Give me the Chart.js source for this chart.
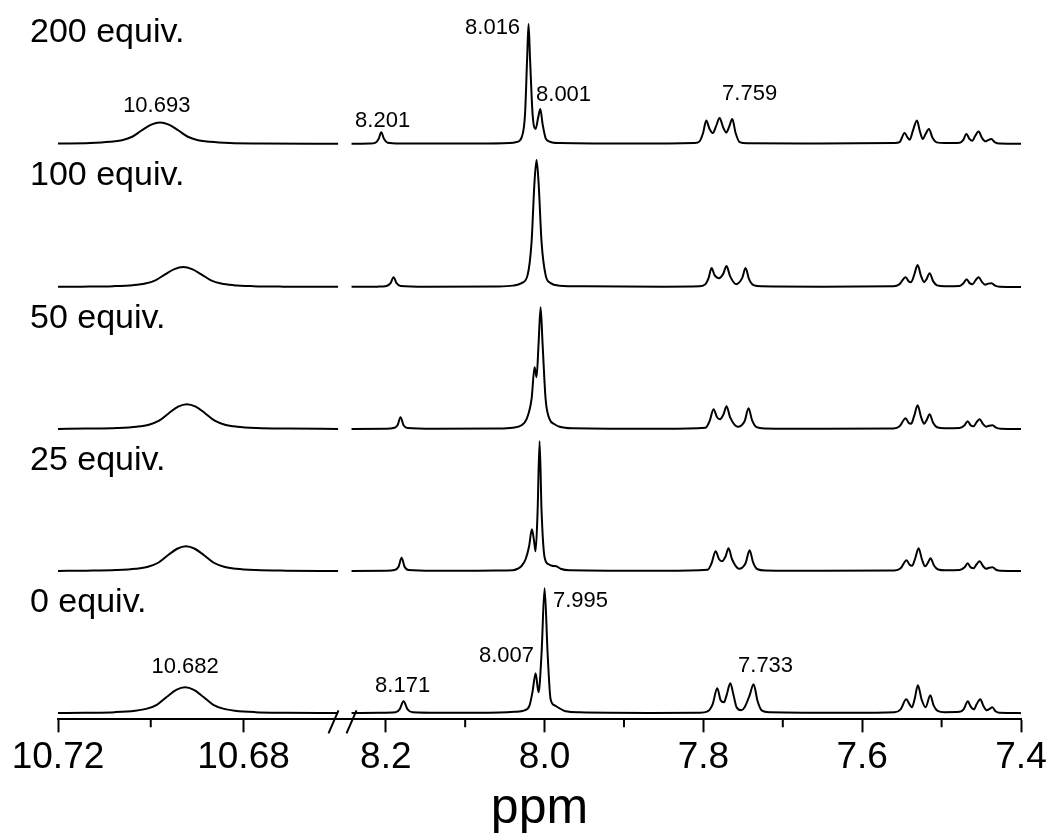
<!DOCTYPE html>
<html>
<head>
<meta charset="utf-8">
<script src="https://cdn.jsdelivr.net/npm/chart.js"></script>
<style>
  html, body { margin: 0; padding: 0; background: #fff; }
  #wrap { width: 1051px; height: 834px; }
</style>
</head>
<body>
<div id="wrap"><canvas id="nmr"></canvas></div>
<script>
// spectra, bottom to top
const spectrumNames = ['0 equiv.', '25 equiv.', '50 equiv.', '100 equiv.', '200 equiv.'];

// ticks of the broken axis
const leftTicks = [10.72, 10.68];
const leftMinor = [10.70];
const rightTicks = [8.2, 8.0, 7.8, 7.6, 7.4];
const rightMinor = [8.1, 7.9, 7.7, 7.5];

// [ppm, intensity], 10.7 ppm part
const left0 = [[10.7200,0.3],[10.7142,0.6],[10.7077,1.2],[10.7034,2.6],[10.7008,4.7],[10.6986,8.8],[10.6965,16.6],[10.6945,23.4],[10.6926,26],[10.6907,23.4],[10.6887,16.6],[10.6866,8.8],[10.6844,4.7],[10.6818,2.6],[10.6775,1.2],[10.6710,0.6],[10.6596,0.3]];
const left25 = [[10.7200,0.3],[10.7140,0.6],[10.7075,1.2],[10.7032,2.5],[10.7006,4.5],[10.6984,8.5],[10.6963,16],[10.6943,22.5],[10.6924,25],[10.6905,22.5],[10.6885,16],[10.6864,8.5],[10.6842,4.5],[10.6816,2.5],[10.6773,1.2],[10.6708,0.6],[10.6596,0.3]];
const left50 = [[10.7200,0.3],[10.7138,0.6],[10.7073,1.2],[10.7030,2.5],[10.7004,4.5],[10.6982,8.5],[10.6961,16],[10.6941,22.5],[10.6922,25],[10.6903,22.5],[10.6883,16],[10.6862,8.5],[10.6840,4.5],[10.6814,2.5],[10.6771,1.2],[10.6706,0.6],[10.6596,0.3]];
const left100 = [[10.7200,0.3],[10.7150,0.5],[10.7081,1.0],[10.7038,2.0],[10.7012,3.6],[10.6990,6.8],[10.6969,12.8],[10.6949,18],[10.6930,20],[10.6911,18],[10.6891,12.8],[10.6870,6.8],[10.6848,3.6],[10.6822,2.0],[10.6779,1.0],[10.6714,0.5],[10.6596,0.3]];
const left200 = [[10.7200,0.5],[10.7131,1.0],[10.7088,2.2],[10.7062,3.9],[10.7040,7.3],[10.7019,13.8],[10.6999,19.4],[10.6980,21.6],[10.6961,19.4],[10.6941,13.8],[10.6920,7.3],[10.6898,3.9],[10.6872,2.2],[10.6829,1.0],[10.6764,0.6],[10.6596,0.3]];

// [ppm, intensity], 8.2 - 7.4 ppm part
const right0 = [[8.2431,0.3],[8.2080,0.5],[8.1877,1],[8.1826,4],[8.1776,12],[8.1725,4],[8.1662,1],[8.1322,0.5],[8.0567,0.8],[8.0378,1.5],[8.0252,3],[8.0189,8],[8.0151,22],[8.0113,40],[8.0076,21],[8.0038,60],[8.0000,125],[7.9962,60],[7.9924,14],[7.9874,8],[7.9811,5],[7.9736,2],[7.9559,1],[7.8678,0.4],[7.8048,0.6],[7.7947,2],[7.7884,9],[7.7825,25],[7.7783,13],[7.7742,11],[7.7708,18],[7.7661,30],[7.7620,18],[7.7582,6],[7.7523,3],[7.7481,6],[7.7418,18],[7.7368,29],[7.7317,12],[7.7267,3],[7.7166,1],[7.6159,0.5],[7.5592,1],[7.5516,4],[7.5445,14],[7.5403,9],[7.5374,6],[7.5340,14],[7.5299,28],[7.5252,14],[7.5202,6],[7.5142,18],[7.5101,8],[7.5050,2.5],[7.4962,1.2],[7.4773,1.5],[7.4723,4],[7.4669,12],[7.4635,7],[7.4593,4],[7.4559,9],[7.4513,14],[7.4471,7],[7.4430,3],[7.4395,4.5],[7.4361,6],[7.4320,2],[7.4270,0.5],[7.3992,0.2]];
const right25 = [[8.2431,0.3],[8.2000,0.5],[8.1889,1.2],[8.1839,4.5],[8.1801,13.5],[8.1763,4.5],[8.1713,1.2],[8.1400,0.5],[8.0600,0.7],[8.0403,1],[8.0340,2.5],[8.0293,5],[8.0239,12],[8.0195,25],[8.0160,42],[8.0132,30],[8.0113,20],[8.0088,60],[8.0063,130],[8.0038,60],[8.0000,14],[7.9950,7],[7.9906,5.5],[7.9853,5],[7.9798,2.5],[7.9685,1],[7.8500,0.5],[7.7947,1.5],[7.7897,8],[7.7846,20],[7.7802,12],[7.7765,10],[7.7720,15],[7.7683,23],[7.7639,12],[7.7551,2.5],[7.7469,8],[7.7418,21],[7.7374,9],[7.7317,2],[7.7217,0.8],[7.6500,0.5],[7.5592,0.8],[7.5516,3],[7.5441,11],[7.5403,6.5],[7.5372,5.5],[7.5334,12.5],[7.5290,23],[7.5246,11.5],[7.5208,5],[7.5176,8],[7.5139,13],[7.5094,5.5],[7.5044,1.8],[7.4950,1],[7.4773,1.2],[7.4710,4],[7.4672,8],[7.4635,4],[7.4597,3],[7.4559,7],[7.4521,10],[7.4477,5],[7.4439,2.5],[7.4402,3.5],[7.4358,4],[7.4314,1.5],[7.4257,0.5],[7.3992,0.2]];
const right50 = [[8.2431,0.3],[8.2000,0.5],[8.1902,1.2],[8.1852,4],[8.1814,12],[8.1776,4],[8.1725,1.2],[8.1400,0.5],[8.0600,0.7],[8.0400,1.5],[8.0290,4],[8.0227,10],[8.0164,30],[8.0126,62],[8.0101,52],[8.0076,85],[8.0050,122],[8.0025,85],[7.9987,30],[7.9937,10],[7.9874,5],[7.9811,2.5],[7.9650,1],[7.8500,0.5],[7.7973,1.5],[7.7922,8],[7.7872,20],[7.7828,12],[7.7790,10],[7.7746,15],[7.7708,23],[7.7664,12],[7.7569,2.5],[7.7481,8],[7.7431,21],[7.7387,9],[7.7330,2],[7.7229,0.8],[7.6500,0.5],[7.5605,0.8],[7.5529,3],[7.5453,11],[7.5416,6.5],[7.5384,5.5],[7.5346,13],[7.5302,24],[7.5258,12],[7.5220,5.5],[7.5189,9],[7.5151,15],[7.5107,6.5],[7.5057,2],[7.4962,1],[7.4773,1.2],[7.4710,4],[7.4672,8],[7.4635,4],[7.4597,3],[7.4559,7],[7.4521,10],[7.4477,5],[7.4439,2.5],[7.4402,3.5],[7.4358,4],[7.4314,1.5],[7.4257,0.5],[7.3992,0.2]];
const right100 = [[8.2431,0.3],[8.2100,0.5],[8.1990,1.2],[8.1940,4],[8.1902,10],[8.1864,4],[8.1814,1.2],[8.1500,0.5],[8.0600,0.7],[8.0400,1.5],[8.0290,4],[8.0214,12],[8.0164,45],[8.0127,105],[8.0101,127],[8.0076,105],[8.0038,45],[7.9987,12],[7.9924,4],[7.9811,1.5],[7.9500,0.8],[7.8500,0.5],[7.8048,0.8],[7.7973,3],[7.7935,9],[7.7897,19],[7.7859,12],[7.7802,9],[7.7752,13],[7.7708,21],[7.7664,11],[7.7588,3],[7.7512,9],[7.7469,19],[7.7425,8],[7.7368,2],[7.7267,0.8],[7.6500,0.5],[7.5605,0.8],[7.5529,3],[7.5453,10],[7.5416,6],[7.5384,5],[7.5346,12],[7.5302,22],[7.5258,11],[7.5220,5],[7.5189,8],[7.5151,14],[7.5107,6],[7.5057,1.8],[7.4962,1],[7.4773,1.2],[7.4723,4],[7.4685,8],[7.4647,4],[7.4609,3],[7.4571,7],[7.4534,10],[7.4490,5],[7.4452,2.5],[7.4414,3.5],[7.4370,4],[7.4326,1.5],[7.4270,0.5],[7.3992,0.2]];
const right200 = [[8.2431,0.3],[8.2204,0.5],[8.2128,1.5],[8.2091,5],[8.2057,11.7],[8.2021,5],[8.1977,1.3],[8.1826,0.5],[8.0819,0.5],[8.0441,1],[8.0353,2],[8.0290,6.5],[8.0246,30],[8.0220,85],[8.0202,120],[8.0183,85],[8.0151,30],[8.0113,15],[8.0082,26],[8.0054,35],[8.0025,20],[7.9987,6],[7.9937,2.5],[7.9811,1],[7.8804,0.5],[7.8111,1],[7.8048,2.7],[7.8004,11],[7.7964,23.5],[7.7922,15],[7.7881,11],[7.7840,18],[7.7796,26],[7.7752,17],[7.7712,11.5],[7.7677,17],[7.7636,25],[7.7594,11],[7.7544,2],[7.7443,0.8],[7.6537,0.5],[7.5592,1],[7.5529,2],[7.5466,11],[7.5428,6.5],[7.5403,4.3],[7.5359,14],[7.5311,23.6],[7.5271,12],[7.5236,5],[7.5202,10],[7.5160,15],[7.5113,6],[7.5063,1.7],[7.4962,1],[7.4773,1.3],[7.4729,4],[7.4688,10],[7.4647,5],[7.4613,3.3],[7.4578,8],[7.4534,12.6],[7.4490,6],[7.4446,2.7],[7.4414,4],[7.4374,5],[7.4332,2],[7.4270,0.5],[7.3992,0.2]];

const leftData = [left0, left25, left50, left100, left200];
const rightData = [right0, right25, right50, right100, right200];

// peak labels: text, axis, ppm, height over baseline, spectrum index
const peakText = ['10.682', '8.171', '8.007', '7.995', '7.733', '10.693', '8.201', '8.016', '8.001', '7.759'];
const peakAxis = ['xl', 'xr', 'xr', 'xr', 'xr', 'xl', 'xr', 'xr', 'xr', 'xr'];
const peakPpm = [10.6926, 8.1788, 8.0479, 7.9547, 7.7217, 10.6987, 8.2040, 8.0655, 7.9761, 7.7418];
const peakHeight = [46, 27, 57, 112, 47, 38, 23, 116.5, 49, 50];
const peakSpec = [0, 0, 0, 0, 0, 4, 4, 4, 4, 4];

// vertical stacking of the traces (px units of the hidden y axis)
const offsets = [0, 142, 284, 426, 569];
const FONT = '"Liberation Sans", Arial, Helvetica, sans-serif';

const datasets = [];
for (let i = 0; i < spectrumNames.length; i++) {
  [['xl', leftData[i]], ['xr', rightData[i]]].forEach(([axis, pts]) => {
    datasets.push({
      label: spectrumNames[i],
      xAxisID: axis,
      yAxisID: 'y',
      data: pts.map(p => ({ x: p[0], y: p[1] + offsets[i] })),
      borderColor: '#000',
      borderWidth: 2,
      pointRadius: 0,
      fill: false,
      cubicInterpolationMode: 'monotone'
    });
  });
}

// texts, minor ticks and the axis break
const decorPlugin = {
  id: 'decor',
  afterDraw(chart) {
    const ctx = chart.ctx;
    const xl = chart.scales.xl, xr = chart.scales.xr, y = chart.scales.y;
    const bottom = chart.chartArea.bottom;
    ctx.save();
    ctx.fillStyle = '#000';
    ctx.strokeStyle = '#000';

    ctx.font = '34px ' + FONT;
    ctx.textAlign = 'left';
    ctx.textBaseline = 'middle';
    spectrumNames.forEach((name, i) => {
      ctx.fillText(name, 30, y.getPixelForValue(offsets[i] + 111));
    });

    ctx.font = '22px ' + FONT;
    ctx.textAlign = 'center';
    peakText.forEach((t, i) => {
      const sc = chart.scales[peakAxis[i]];
      ctx.fillText(t, sc.getPixelForValue(peakPpm[i]), y.getPixelForValue(offsets[peakSpec[i]] + peakHeight[i]));
    });

    ctx.lineWidth = 2;
    ctx.beginPath();
    leftMinor.forEach(v => { const px = xl.getPixelForValue(v); ctx.moveTo(px, bottom); ctx.lineTo(px, bottom + 8); });
    rightMinor.forEach(v => { const px = xr.getPixelForValue(v); ctx.moveTo(px, bottom); ctx.lineTo(px, bottom + 8); });
    ctx.stroke();

    const j = xl.right;
    ctx.beginPath();
    ctx.moveTo(j - 14, bottom + 14); ctx.lineTo(j - 4, bottom - 9);
    ctx.moveTo(j + 4, bottom + 14); ctx.lineTo(j + 14, bottom - 9);
    ctx.stroke();
    ctx.restore();
  }
};

function axisOptions(ticks, digits, weight, min, max) {
  return {
    type: 'linear',
    position: 'bottom',
    stack: 'ppm',
    stackWeight: weight,
    reverse: true,
    min: min,
    max: max,
    afterBuildTicks: scale => { scale.ticks = ticks.map(v => ({ value: v })); },
    afterFit: scale => { scale.paddingLeft = 0; scale.paddingRight = 0; },
    grid: { drawOnChartArea: false, drawTicks: true, tickLength: 13, tickWidth: 2, tickColor: '#000' },
    border: { display: true, color: '#000', width: 2 },
    ticks: {
      autoSkip: false,
      maxRotation: 0,
      padding: 9,
      color: '#000',
      font: { family: FONT, size: 37, lineHeight: 0.91 },
      callback: v => Number(v).toFixed(digits)
    }
  };
}

new Chart(document.getElementById('nmr'), {
  type: 'line',
  data: { datasets: datasets },
  options: {
    responsive: true,
    maintainAspectRatio: false,
    animation: false,
    parsing: true,
    layout: { padding: { left: 58, right: 30, top: 0, bottom: 0 } },
    plugins: {
      legend: { display: false },
      tooltip: { enabled: false },
      title: {
        display: true,
        text: 'ppm',
        position: 'bottom',
        fullSize: false,
        color: '#000',
        font: { family: FONT, size: 50, weight: 'normal', lineHeight: 1 },
        padding: { top: 0, bottom: 0 }
      }
    },
    scales: {
      xl: axisOptions(leftTicks, 2, 284.5, 10.65865, 10.72),
      xr: axisOptions(rightTicks, 1, 678.5, 7.4, 8.2545),
      y: { display: false, min: -6, max: 713 }
    }
  },
  plugins: [decorPlugin]
});
</script>
</body>
</html>
